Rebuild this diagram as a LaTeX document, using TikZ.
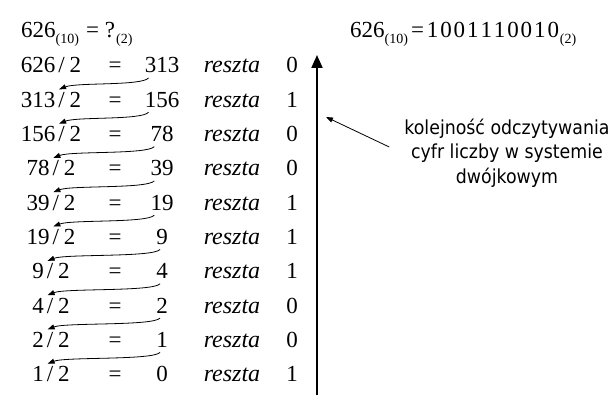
\documentclass[tikz,border=0pt]{standalone}
\usepackage{fontspec}
\setmainfont{Liberation Serif}
\newfontfamily\lblfont{DejaVu Sans Condensed}
\usetikzlibrary{arrows.meta,calc}
\newcommand\mysub[1]{\raisebox{-6pt}{\fontsize{14}{14}\selectfont #1}}
\newcommand\bd[1]{\makebox[13.4pt]{#1}}
\begin{document}
\begin{tikzpicture}[x=1pt,y=1pt,
  txt/.style={inner sep=0pt, anchor=base, font=\fontsize{23}{27}\selectfont},
  curv/.style={line width=0.8pt, -{Triangle[length=7pt,width=5pt]}},
  bigarr/.style={line width=2pt, -{Triangle[length=13pt,width=11pt]}},
  smallarr/.style={line width=0.8pt, -{Triangle[length=7pt,width=5pt]}},
  lbl/.style={inner sep=0pt, align=center, font=\lblfont\fontsize{19.3}{24.5}\selectfont}]
\useasboundingbox (0,0) rectangle (616,405);
\node[txt, anchor=base west] (t1) at (21,367) {626\mysub{(10)}\kern7pt=\kern6pt?\kern1pt\mysub{(2)}};
\node[txt, anchor=base west] (t2) at (350,367) {626\mysub{(10)}\kern3pt=\kern2pt\bd{1}\bd{0}\bd{0}\bd{1}\bd{1}\bd{1}\bd{0}\bd{0}\bd{1}\bd{0}\mysub{(2)}};
\foreach \a/\r/\m [count=\i] in {626/313/0,313/156/1,156/78/0,78/39/0,39/19/1,19/9/1,9/4/1,4/2/0,2/1/0,1/0/1}{
  \pgfmathsetmacro\yy{332-34.3*(\i-1)}
  \node[txt] (l\i) at (51,\yy) {\a\kern3pt/\kern5pt2};
  \node[txt] (e\i) at (115,\yy) {=};
  \node[txt] (r\i) at (162,\yy) {\r};
  \node[txt] (z\i) at (232,\yy) {\fontsize{24}{27}\selectfont\textit{reszta}};
  \node[txt] (m\i) at (292,\yy) {\m};
}
\foreach \i/\n in {1/3,2/3,3/2,4/2,5/2,6/1,7/1,8/1,9/1}{
  \pgfmathtruncatemacro\j{\i+1}
  \coordinate (tp\i) at ($(l\j.base west)+(11.5*\n+4,18)$);
  \draw[curv] ($(r\i.base west)+(4,-5)$) .. controls +(-7,-8) and +(18,7) .. (tp\i);
}
\coordinate (bb) at (317,10);
\coordinate (bt) at (317,350);
\draw[bigarr] (bb) -- (bt);
\node[lbl] (lab) at (507,252) {kolejność odczytywania\\cyfr liczby w systemie\\dwójkowym};
\coordinate (sa) at (326,288);
\draw[smallarr] ($(lab.west)+(-15,6)$) -- (sa);
\end{tikzpicture}
\end{document}
